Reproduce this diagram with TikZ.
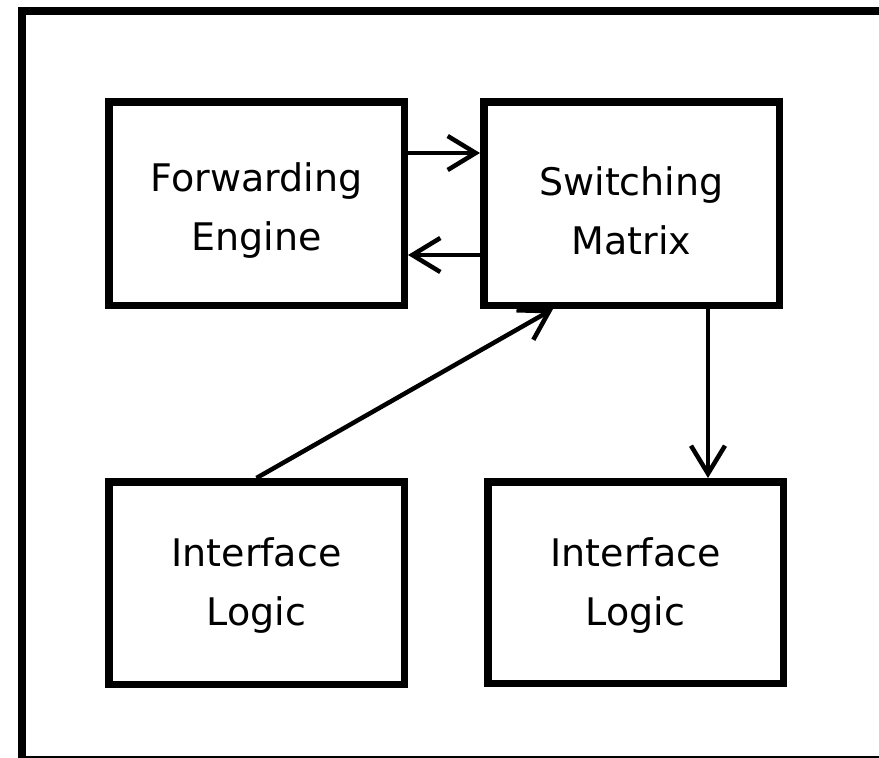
\documentclass[tikz,border=0pt]{standalone}
\usepackage{fontspec}
\setmainfont{DejaVu Sans}
\usetikzlibrary{arrows.meta,calc}
\begin{document}
\begin{tikzpicture}[x=1pt,y=-1pt,
  block/.style={draw=black,line width=7.5pt,inner sep=0pt,
    minimum width=295.5pt,minimum height=203.5pt},
  lbl/.style={inner sep=0pt,align=center,
    font=\fontsize{38}{59}\selectfont},
  arr/.style={line width=4.5pt,
    -{Straight Barb[length=28pt,width=34pt,line width=4.5pt]}}]
  % page area; the frame runs past the right and bottom edges
  \clip (0,0) rectangle (879,758);
  \fill[white] (0,0) rectangle (879,758);
  \draw[line width=8pt] (22,11) rectangle (900,760);

  % blocks
  \node[block] (FE) at (256.5,203.5) {};
  \node[block] (SM) at (631.5,203.5) {};
  \node[block,minimum height=202.5pt] (IL1) at (256.5,583) {};
  \node[block,minimum height=201.5pt] (IL2) at (635.5,582.5) {};

  % block texts
  \node[lbl] (FEt)  at ($(FE)+(0,7)$)  {Forwarding\\Engine};
  \node[lbl] (SMt)  at ($(SM)+(0,7)$)  {Switching\\Matrix};
  \node[lbl] (IL1t) at ($(IL1)+(0,3)$) {Interface\\Logic};
  \node[lbl] (IL2t) at ($(IL2)+(0,3)$) {Interface\\Logic};

  % connector end points
  \coordinate (diagEnd) at ($(SM.south)+(-78.5,0)$);
  \coordinate (downStart) at ($(SM.south)+(76.5,0)$);
  \coordinate (downEnd) at (downStart |- IL2.north);

  % connectors
  \draw[arr] ($(FE.east)+(0,-50.5)$) -- ($(SM.west)+(0,-50.5)$);
  \draw[arr] ($(SM.west)+(0,51.5)$) -- ($(FE.east)+(0,51.5)$);
  \draw[arr] (IL1.north) -- (diagEnd);
  \draw[arr] (downStart) -- (downEnd);
\end{tikzpicture}
\end{document}
